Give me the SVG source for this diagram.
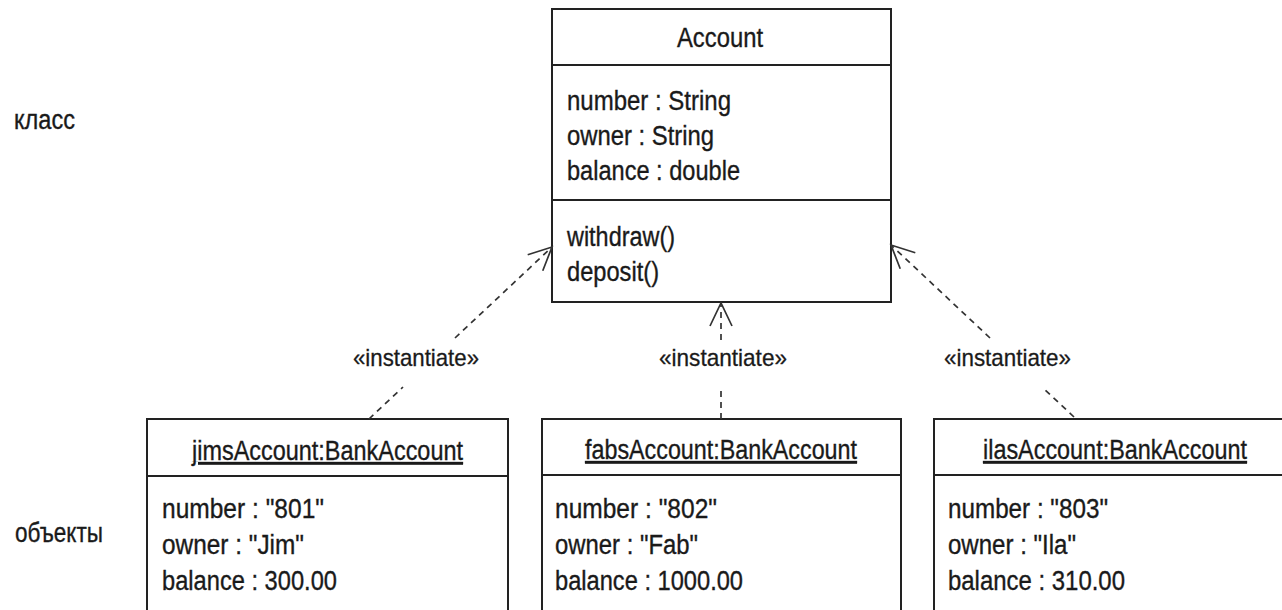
<svg xmlns="http://www.w3.org/2000/svg" width="1282" height="610" viewBox="0 0 1282 610">
<style>
  .box { fill: #ffffff; stroke: #222; stroke-width: 2; }
  .edge { fill: none; stroke: #222; stroke-width: 2; }
  .div { stroke: #222; stroke-width: 2; }
  .t { font-family: "Liberation Sans", Arial, sans-serif; font-size: 27px; fill: #1a1a1a; stroke: #1a1a1a; stroke-width: 0.35; }
  .st { font-family: "Liberation Sans", Arial, sans-serif; font-size: 24px; fill: #1a1a1a; stroke: #1a1a1a; stroke-width: 0.3; }
  .u { text-decoration: underline; }
  .dep { fill: none; stroke: #333; stroke-width: 1.7; stroke-dasharray: 6 5; }
</style>
<defs>
  <marker id="open" markerUnits="userSpaceOnUse" markerWidth="40" markerHeight="40" viewBox="-30 -20 40 40" refX="0" refY="0" orient="auto" overflow="visible">
    <path d="M -23,-11 L 0,0 L -23,11" fill="none" stroke="#333" stroke-width="1.7"/>
  </marker>
</defs>
<rect width="1282" height="610" fill="#ffffff"/>

<g id="label-class">
  <text class="t" x="14" y="129" textLength="61" lengthAdjust="spacingAndGlyphs">класс</text>
</g>
<g id="label-objects">
  <text class="t" x="15" y="542" textLength="88" lengthAdjust="spacingAndGlyphs">объекты</text>
</g>

<g id="Account">
  <rect class="box" x="552" y="9" width="339" height="293"/>
  <line class="div" x1="552" y1="65" x2="891" y2="65"/>
  <line class="div" x1="552" y1="200" x2="891" y2="200"/>
  <text class="t" x="677" y="47" textLength="86" lengthAdjust="spacingAndGlyphs">Account</text>
  <text class="t" x="567" y="110" textLength="164" lengthAdjust="spacingAndGlyphs">number : String</text>
  <text class="t" x="567" y="145" textLength="147" lengthAdjust="spacingAndGlyphs">owner : String</text>
  <text class="t" x="567" y="180" textLength="173" lengthAdjust="spacingAndGlyphs">balance : double</text>
  <text class="t" x="567" y="246" textLength="108" lengthAdjust="spacingAndGlyphs">withdraw()</text>
  <text class="t" x="567" y="281" textLength="92" lengthAdjust="spacingAndGlyphs">deposit()</text>
</g>

<g id="jimsAccount">
  <path class="edge" d="M 147,611 V 419 H 508 V 611"/>
  <line class="div" x1="147" y1="476" x2="508" y2="476"/>
  <text class="t u" x="192" y="460" textLength="271" lengthAdjust="spacingAndGlyphs">jimsAccount:BankAccount</text>
  <text class="t" x="162" y="518" textLength="162" lengthAdjust="spacingAndGlyphs">number : "801"</text>
  <text class="t" x="162" y="554" textLength="142" lengthAdjust="spacingAndGlyphs">owner : "Jim"</text>
  <text class="t" x="162" y="590" textLength="175" lengthAdjust="spacingAndGlyphs">balance : 300.00</text>
</g>

<g id="fabsAccount">
  <path class="edge" d="M 542,611 V 419 H 901 V 611"/>
  <line class="div" x1="542" y1="475" x2="901" y2="475"/>
  <text class="t u" x="585" y="459" textLength="272" lengthAdjust="spacingAndGlyphs">fabsAccount:BankAccount</text>
  <text class="t" x="555" y="518" textLength="162" lengthAdjust="spacingAndGlyphs">number : "802"</text>
  <text class="t" x="555" y="554" textLength="143" lengthAdjust="spacingAndGlyphs">owner : "Fab"</text>
  <text class="t" x="555" y="590" textLength="188" lengthAdjust="spacingAndGlyphs">balance : 1000.00</text>
</g>

<g id="ilasAccount">
  <path class="edge" d="M 934,611 V 419 H 1282"/>
  <line class="div" x1="934" y1="475" x2="1282" y2="475"/>
  <text class="t u" x="983" y="459" textLength="264" lengthAdjust="spacingAndGlyphs">ilasAccount:BankAccount</text>
  <text class="t" x="948" y="518" textLength="160" lengthAdjust="spacingAndGlyphs">number : "803"</text>
  <text class="t" x="948" y="554" textLength="128" lengthAdjust="spacingAndGlyphs">owner : "Ila"</text>
  <text class="t" x="948" y="590" textLength="177" lengthAdjust="spacingAndGlyphs">balance : 310.00</text>
</g>

<g id="connectors">
  <path class="dep" d="M 369,419 L 403,387 M 455,338 L 552,247" marker-end="url(#open)"/>
  <path class="dep" d="M 721,419 L 721,387 M 721,340 L 721,303" marker-end="url(#open)"/>
  <path class="dep" d="M 1074,417 L 1043,388 M 990,338 L 891,245" marker-end="url(#open)"/>
  <text class="st" x="353" y="366" textLength="126" lengthAdjust="spacingAndGlyphs">«instantiate»</text>
  <text class="st" x="659" y="366" textLength="128" lengthAdjust="spacingAndGlyphs">«instantiate»</text>
  <text class="st" x="944" y="366" textLength="127" lengthAdjust="spacingAndGlyphs">«instantiate»</text>
</g>
</svg>
